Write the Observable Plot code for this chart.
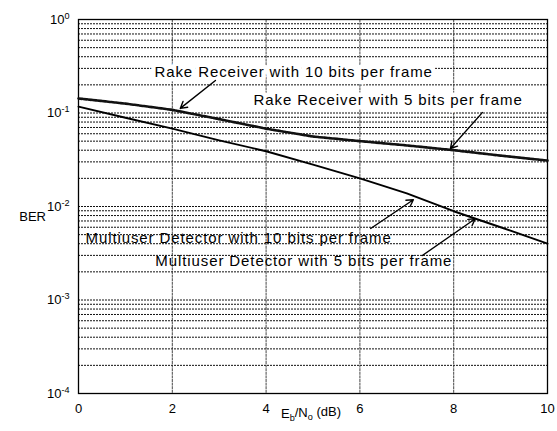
<!DOCTYPE html>
<html><head><meta charset="utf-8">
<script src="https://cdn.jsdelivr.net/npm/d3@7"></script>
<script src="https://cdn.jsdelivr.net/npm/@observablehq/plot@0.6"></script>
<style>
body{margin:0;background:#fff;}
#chart svg{display:block;font-family:"Liberation Sans",Arial,Helvetica,sans-serif;}
#chart svg g[aria-label="text"] text{letter-spacing:0.9px;}
</style></head><body><div id="chart"></div>
<script>
// Eb/No (dB)
const snr = [0, 1, 2, 3, 4, 5, 6, 7, 8, 9, 10];
// Rake receiver (dashed)
const rakeBer = [0.143, 0.126, 0.108, 0.086, 0.068, 0.056, 0.050, 0.045, 0.040, 0.035, 0.031];
// Multiuser detector (solid)
const mudBer = [0.117, 0.089, 0.068, 0.051, 0.039, 0.028, 0.020, 0.0138, 0.0089, 0.0060, 0.0040];
const xTicks = [0, 2, 4, 6, 8, 10];
const yTicks = [1e-4, 1e-3, 1e-2, 1e-1, 1];
const xGrid = [2, 4, 6, 8];
const decades = [1e-4, 1e-3, 1e-2, 1e-1];
const mantissas = [1, 2, 3, 4, 5, 6, 7, 8, 9];

// annotations (data coordinates)
const rakeLabelsStart = [
  {text: "Rake Receiver with 10 bits per frame", x: 1.62, y: 0.271}
];
const rakeLabelsEnd = [
  {text: "Rake Receiver with 5 bits per frame", x: 9.47, y: 0.136}
];
const mudLabelsStart = [
  {text: "Multiuser Detector with 10 bits per frame", x: 0.15, y: 0.00455}
];
const mudLabelsEnd = [
  {text: "Multiuser Detector with 5 bits per frame", x: 7.97, y: 0.00258}
];
const arrows = [
  {x1: 2.92, y1: 0.223, x2: 2.17, y2: 0.112},
  {x1: 8.61, y1: 0.101, x2: 7.93, y2: 0.0417},
  {x1: 6.23, y1: 0.00582, x2: 7.14, y2: 0.0118},
  {x1: 7.33, y1: 0.00299, x2: 8.46, y2: 0.0074}
];

const yGrid = decades.flatMap(d => mantissas.map(m => m * d)).concat([1]);
const rake = snr.map((x, i) => ({snr: x, ber: rakeBer[i]}));
const mud = snr.map((x, i) => ({snr: x, ber: mudBer[i]}));

const plot = Plot.plot({
  width: 557, height: 431,
  marginLeft: 78, marginRight: 10, marginTop: 19, marginBottom: 38,
  style: {fontFamily: '"Liberation Sans",Arial,sans-serif', fontSize: "13px", background: "#fff", color: "#000", overflow: "visible"},
  x: {domain: [0, 10], ticks: xTicks, tickSize: 0, tickPadding: 10, label: null},
  y: {type: "log", domain: [1e-4, 1], ticks: yTicks, tickSize: 0, tickPadding: 9, label: null,
      tickFormat: d => `10^${Math.round(Math.log10(d))}`},
  marks: [
    Plot.ruleY(yGrid, {stroke: "#111", strokeWidth: 1, strokeDasharray: "2,1"}),
    Plot.ruleX(xGrid, {stroke: "#333", strokeWidth: 0.9, strokeDasharray: "3,0.6"}),
    Plot.text(rakeLabelsStart, {x: "x", y: "y", text: "text", textAnchor: "start", fontSize: 15, fill: "none", stroke: "#fff", strokeWidth: 9}),
    Plot.text(rakeLabelsEnd, {x: "x", y: "y", text: "text", textAnchor: "end", fontSize: 15, fill: "none", stroke: "#fff", strokeWidth: 9}),
    Plot.frame({stroke: "#000", strokeWidth: 1.3}),
    Plot.line(rake, {x: "snr", y: "ber", stroke: "#111", strokeWidth: 2.6, strokeDasharray: "3.5,1.2"}),
    Plot.line(mud, {x: "snr", y: "ber", stroke: "#000", strokeWidth: 1.9}),
    Plot.arrow(arrows, {x1: "x1", y1: "y1", x2: "x2", y2: "y2", bend: 0, headLength: 8, stroke: "#000", strokeWidth: 1.4}),
    Plot.text(rakeLabelsStart, {x: "x", y: "y", text: "text", textAnchor: "start", fontSize: 15, fill: "#000"}),
    Plot.text(rakeLabelsEnd, {x: "x", y: "y", text: "text", textAnchor: "end", fontSize: 15, fill: "#000"}),
    Plot.text(mudLabelsStart, {x: "x", y: "y", text: "text", textAnchor: "start", fontSize: 15, fill: "#000"}),
    Plot.text(mudLabelsEnd, {x: "x", y: "y", text: "text", textAnchor: "end", fontSize: 15, fill: "#000"})
  ]
});

const svg = d3.select(plot);
svg.selectAll('g[aria-label="y-axis tick label"] text').each(function () {
  const t = d3.select(this);
  const m = t.text().match(/^10\^(-?\d+)$/);
  if (m) {
    t.text("10");
    t.append("tspan").attr("dy", "-0.55em").attr("font-size", "0.7em").text(m[1]);
  }
});
// axis titles
const xl = svg.append("text").attr("x", 311).attr("y", 418).attr("text-anchor", "middle")
  .attr("font-size", 13).attr("fill", "#000");
xl.append("tspan").text("E");
xl.append("tspan").attr("dy", "0.3em").attr("font-size", "0.7em").text("b");
xl.append("tspan").attr("dy", "-0.3em").text("/N");
xl.append("tspan").attr("dy", "0.3em").attr("font-size", "0.7em").text("o");
xl.append("tspan").attr("dy", "-0.3em").text(" (dB)");
svg.append("text").attr("x", 46).attr("y", 221).attr("text-anchor", "end")
  .attr("font-size", 13).attr("fill", "#000").text("BER");

document.getElementById("chart").appendChild(plot);
</script></body></html>
